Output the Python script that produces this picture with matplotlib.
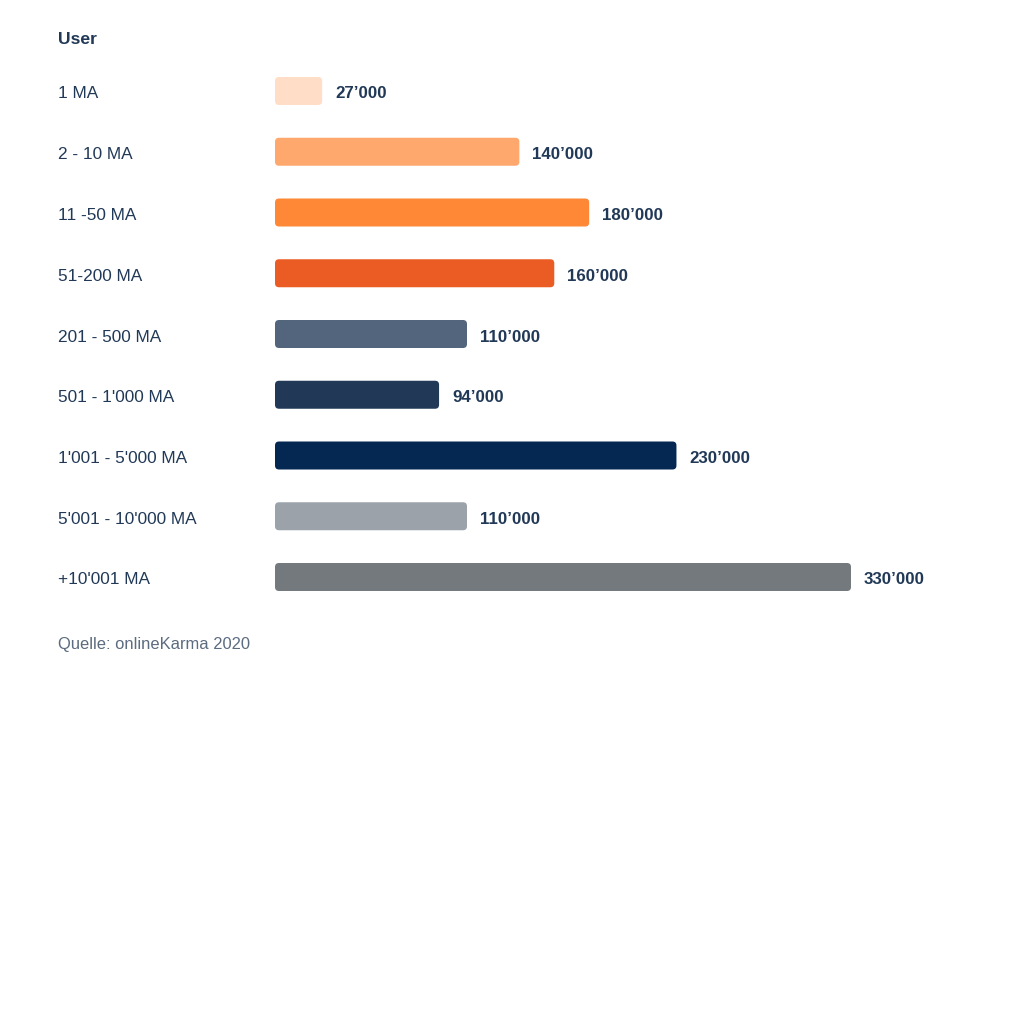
import matplotlib
matplotlib.use("Agg")
import matplotlib.pyplot as plt
from matplotlib.patches import FancyBboxPatch
from matplotlib.transforms import blended_transform_factory

plt.rcParams["font.family"] = ["Liberation Sans", "DejaVu Sans"]

# data
categories = ["1 MA", "2 - 10 MA", "11 -50 MA", "51-200 MA", "201 - 500 MA",
              "501 - 1'000 MA", "1'001 - 5'000 MA", "5'001 - 10'000 MA", "+10'001 MA"]
values = [27000, 140000, 180000, 160000, 110000, 94000, 230000, 110000, 330000]
value_labels = ["27’000", "140’000", "180’000", "160’000", "110’000",
                "94’000", "230’000", "110’000", "330’000"]
colors = ["#FFDDC6", "#FFA86E", "#FF8837", "#EB5B24", "#52657C",
          "#213957", "#042852", "#9BA2AA", "#73797D"]

text_col = "#213957"
W = H = 1024

fig = plt.figure(figsize=(10.24, 10.24), dpi=100)
fig.patch.set_facecolor("white")

# axes: x from px 275 (value 0) to px 851 (value 330000); rows centred 91..577 px
row_px = 60.75
top_px = 91 - row_px / 2
n = len(categories)
bottom_px = top_px + row_px * n
ax = fig.add_axes([275 / W, 1 - bottom_px / H, 576 / W, (bottom_px - top_px) / H])
ax.set_xlim(0, 330000)
ax.set_ylim(n - 0.5, -0.5)
ax.axis("off")

bar_h = 28 / row_px
px_x = 330000 / 576
rad_px = 4
txt_dy = 3 / row_px
for i, (v, c) in enumerate(zip(values, colors)):
    p = FancyBboxPatch((0, i - bar_h / 2), v, bar_h,
                       boxstyle=f"round,pad=0,rounding_size={rad_px * px_x}",
                       mutation_aspect=(rad_px / row_px) / (rad_px * px_x),
                       fc=c, ec="none")
    ax.add_patch(p)
    ax.text(v + 13 * px_x, i + txt_dy, value_labels[i], ha="left", va="center",
            fontsize=12.2, fontweight="bold", color=text_col)

lab_tr = blended_transform_factory(fig.transFigure, ax.transData)
for i, cat in enumerate(categories):
    ax.text(58 / W, i + txt_dy, cat, transform=lab_tr, ha="left", va="center",
            fontsize=12.4, color=text_col)

fig.text(58 / W, 1 - 39 / H, "User", ha="left", va="center",
         fontsize=12.6, fontweight="bold", color=text_col)
fig.text(58 / W, 1 - 644 / H, "Quelle: onlineKarma 2020", ha="left", va="center",
         fontsize=11.9, color="#5B6B80")

fig.savefig("out.png", dpi=100, facecolor="white")
